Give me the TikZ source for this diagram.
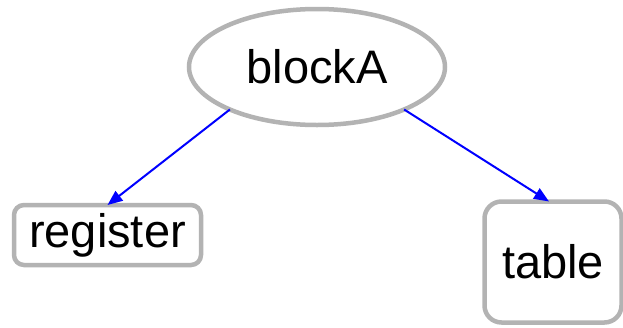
\documentclass[tikz,border=0pt]{standalone}
\usepackage{fontspec}
\setmainfont{Liberation Sans}
\usetikzlibrary{shapes.geometric,arrows.meta}
\definecolor{boxgray}{HTML}{B3B3B3}
\tikzset{
  base/.style={draw=boxgray, line width=4.5pt, fill=white, inner sep=0pt, outer sep=0pt,
    font=\fontsize{47}{51}\selectfont, text=black},
  ell/.style={base, ellipse, minimum width=256pt, minimum height=116pt},
  rbox/.style={base, rectangle, rounded corners=#1},
  link/.style={draw=blue, line width=2pt, -{Triangle[length=15pt,width=12pt]}}
}
\begin{document}
\begin{tikzpicture}[x=1pt,y=-1pt]
\useasboundingbox (0,0) rectangle (623,327);
\node[ell] (a) at (317,67) {blockA};
\node[rbox=10pt, minimum width=187pt, minimum height=60pt] (r) at (107.5,235) {register};
\node[rbox=17pt, minimum width=137pt, minimum height=121pt] (t) at (553,262) {table};
\draw[link] (a.206) -- (r.north);
\draw[link] (a.334) -- ([xshift=-4pt]t.north);
\end{tikzpicture}
\end{document}
